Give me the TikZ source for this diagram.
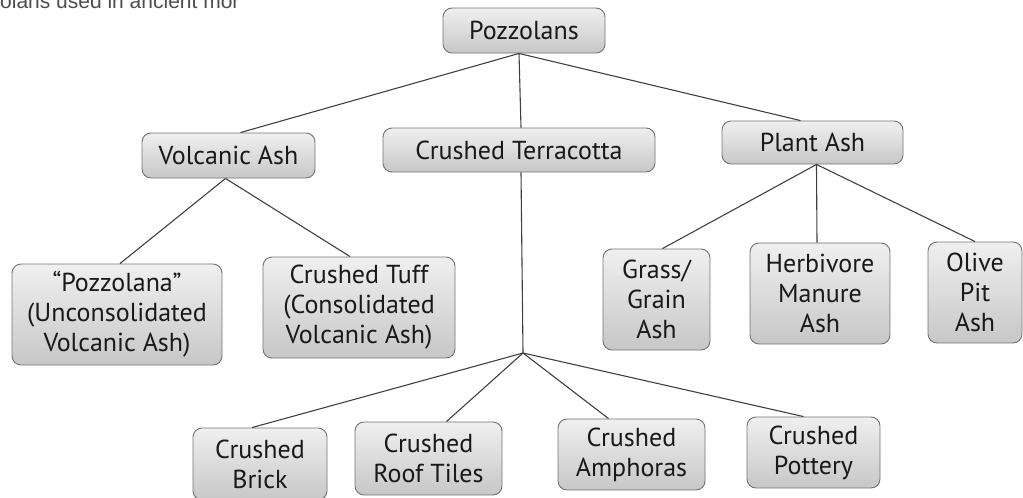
\documentclass[tikz,border=0pt]{standalone}
\usepackage{fontspec}
\setmainfont{PT Sans}
\newfontfamily\headfont{Liberation Sans}
\begin{document}
\begin{tikzpicture}[x=1pt,y=-1pt,
  box/.style={draw=black!55, line width=0.9pt, rounded corners=9pt,
    top color=black!6, bottom color=black!22, align=center,
    inner sep=0pt, font=\fontsize{26}{30}\selectfont, text=black!90},
  link/.style={draw=black!75, line width=1.1pt}]
\useasboundingbox (0,0) rectangle (1023,498);
\node[anchor=base west, inner sep=0pt, font=\headfont\fontsize{21}{21}\selectfont, text=black!70] (head) at (0,8) {olans used in ancient mor};
\node[box, minimum width=162pt, minimum height=45pt] (poz) at (524,30.5) {Pozzolans};
\node[box, minimum width=173pt, minimum height=45pt] (volc) at (228.5,155.5) {Volcanic Ash};
\node[box, minimum width=272pt, minimum height=44pt] (terra) at (519,150) {Crushed Terracotta};
\node[box, minimum width=181pt, minimum height=43pt] (plant) at (812.5,142.5) {Plant Ash};
\node[box, minimum width=210pt, minimum height=101pt] (pozna) at (117,314.5) {``Pozzolana''\\(Unconsolidated\\Volcanic Ash)};
\node[box, minimum width=192pt, minimum height=101pt] (tuff) at (359,307.5) {Crushed Tuff\\(Consolidated\\Volcanic Ash)};
\node[box, minimum width=107pt, minimum height=101pt] (grass) at (656.5,299.5) {Grass/\\Grain\\Ash};
\node[box, minimum width=140pt, minimum height=101pt] (herb) at (820,293.5) {Herbivore\\Manure\\Ash};
\node[box, minimum width=94pt, minimum height=101pt] (olive) at (975,292.5) {Olive\\Pit\\Ash};
\node[box, minimum width=134pt, minimum height=72pt] (brick) at (260,464) {Crushed\\Brick};
\node[box, minimum width=147pt, minimum height=73pt] (roof) at (428.5,458.5) {Crushed\\Roof Tiles};
\node[box, minimum width=147pt, minimum height=71pt] (amph) at (631.5,454.5) {Crushed\\Amphoras};
\node[box, minimum width=133pt, minimum height=71pt] (pott) at (813.5,452.5) {Crushed\\Pottery};
\coordinate (junc) at (523,353);
\draw[link] ([xshift=-5pt]poz.south) -- ([xshift=12pt]volc.north);
\draw[link] ([xshift=-5pt]poz.south) -- ([xshift=2pt]terra.north);
\draw[link] ([xshift=-5pt]poz.south) -- ([xshift=-12pt]plant.north);
\draw[link] ([xshift=-3pt]volc.south) -- ([xshift=3pt]pozna.north);
\draw[link] ([xshift=-3pt]volc.south) -- ([xshift=-9pt]tuff.north);
\draw[link] ([xshift=2pt]terra.south) -- (junc);
\draw[link] ([xshift=4pt]plant.south) -- ([xshift=6pt]grass.north);
\draw[link] ([xshift=4pt]plant.south) -- ([xshift=-3pt]herb.north);
\draw[link] ([xshift=4pt]plant.south) -- (olive.north);
\draw[link] (junc) -- ([xshift=-8pt]brick.north);
\draw[link] (junc) -- ([xshift=18pt]roof.north);
\draw[link] (junc) -- ([xshift=-23pt]amph.north);
\draw[link] (junc) -- ([xshift=-10pt]pott.north);
\end{tikzpicture}
\end{document}
